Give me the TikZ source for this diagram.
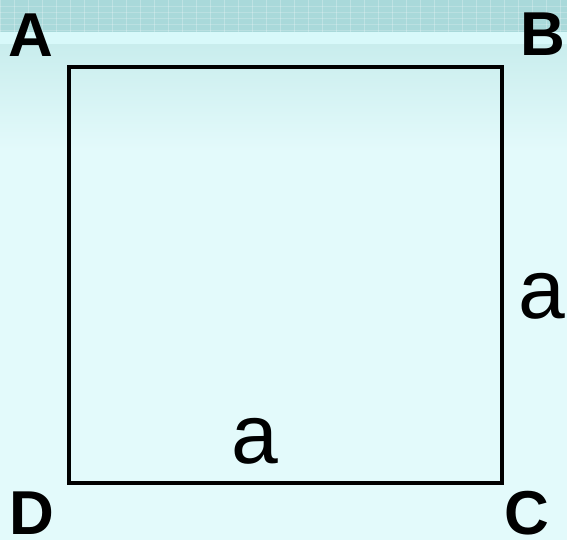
\documentclass[tikz,border=0pt]{standalone}
\usepackage{fontspec}
\setmainfont{Liberation Sans}
\definecolor{bgpale}{HTML}{E3FAFB}
\definecolor{bgband}{HTML}{A9D9DA}
\definecolor{bgstripe}{HTML}{D8F9FA}
\definecolor{bgfade}{HTML}{C9EDED}
\tikzset{
  vertex/.style={inner sep=0pt, font=\fontsize{62}{62}\selectfont\bfseries},
  side/.style={inner sep=0pt, font=\fontsize{84}{84}\selectfont},
  edge/.style={line width=4.2pt, line join=miter}
}
\begin{document}
\begin{tikzpicture}[x=1pt,y=-1pt]
  % background
  \useasboundingbox (0,0) rectangle (567,540);
  \fill[bgpale] (0,0) rectangle (567,540);
  \shade[top color=bgfade, bottom color=bgpale] (0,44) rectangle (567,150);
  \fill[bgband] (0,0) rectangle (567,32);
  \fill[bgstripe] (0,32) rectangle (567,44);
  \foreach \x in {0,14,...,567}
    \draw[white, opacity=0.25, line width=0.8pt] (\x,0) -- (\x,32);
  \foreach \y in {6,12,...,30}
    \draw[white, opacity=0.2, line width=0.6pt] (0,\y) -- (567,\y);
  % corners
  \coordinate (a) at (69,67);
  \coordinate (b) at (502,67);
  \coordinate (c) at (502,483);
  \coordinate (d) at (69,483);
  \draw[edge] (a) -- (b) -- (c) -- (d) -- cycle;
  % labels
  \draw
    (31,35) node[vertex] (A){A}
    (543,34) node[vertex] (B){B}
    (527,513) node[vertex] (C){C}
    (32,513) node[vertex] (D){D};
  \node[side] (ab) at (542,296) {a};
  \node[side] (ad) at (255,441) {a};
\end{tikzpicture}
\end{document}
